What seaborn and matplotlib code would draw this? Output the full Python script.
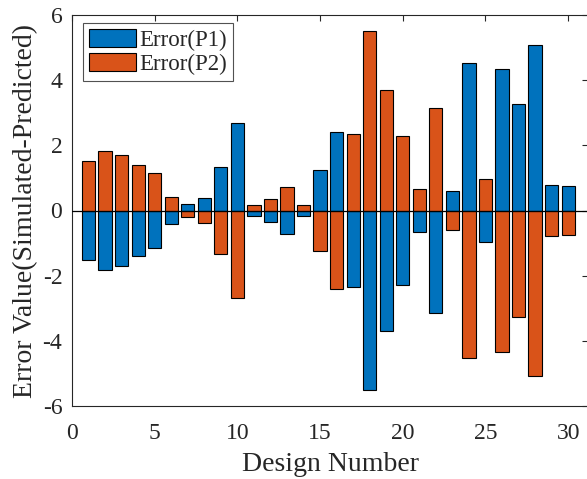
import numpy as np
import pandas as pd
import matplotlib
matplotlib.use('Agg')
import matplotlib.pyplot as plt
import seaborn as sns

# Datos
design = list(range(1, 31))
error_p1 = [-1.52, -1.84, -1.69, -1.40, -1.15, -0.41, 0.20, 0.39, 1.35, 2.70,
            -0.17, -0.34, -0.73, -0.17, 1.25, 2.40, -2.34, -5.51, -3.70, -2.28,
            -0.65, -3.14, 0.60, 4.54, -0.97, 4.35, 3.27, 5.07, 0.77, 0.76]
error_p2 = [-v for v in error_p1]

blue = '#0072BD'
orange = '#D95319'

sns.set_theme(style='white')
plt.rcParams['font.family'] = ['Liberation Serif', 'DejaVu Serif']
plt.rcParams['axes.unicode_minus'] = False

df = pd.DataFrame({'Design': design, 'P1': error_p1, 'P2': error_p2})

fig = plt.figure(figsize=(5.87, 4.79), dpi=100)
ax = fig.add_axes([72 / 587, 1 - 406 / 479, (588 - 72) / 587, (406 - 15) / 479])

sns.barplot(data=df, x='Design', y='P1', native_scale=True, width=0.8,
            color=blue, edgecolor='black', linewidth=0.8, saturation=1,
            label='Error(P1)', ax=ax)
sns.barplot(data=df, x='Design', y='P2', native_scale=True, width=0.8,
            color=orange, edgecolor='black', linewidth=0.8, saturation=1,
            label='Error(P2)', ax=ax)
ax.axhline(0, color='black', lw=0.9, zorder=5)

ax.set_xlim(0, 31.2)
ax.set_ylim(-6, 6)
ax.set_xticks([0, 5, 10, 15, 20, 25, 30])
ax.set_yticks([-6, -4, -2, 0, 2, 4, 6])
ax.tick_params(direction='in', length=4, width=0.8, labelsize=17,
               top=True, right=True, colors='#262626', labelcolor='#262626')
ax.tick_params(axis='x', pad=12)
ax.tick_params(axis='y', pad=7)
for s in ax.spines.values():
    s.set_color('#262626')
    s.set_linewidth(0.8)

ax.set_xlabel('Design Number', fontsize=20, color='#262626', labelpad=6)
ax.set_ylabel('Error Value(Simulated-Predicted)', fontsize=20, color='#262626', labelpad=3.5)

leg = ax.legend(loc='upper left', bbox_to_anchor=(0.0213, 0.9795), fontsize=16.5,
                frameon=True, fancybox=False,
                handlelength=2.05, handleheight=0.85, borderpad=0.25,
                labelspacing=0.1, handletextpad=0.15, borderaxespad=0)
leg.get_frame().set_edgecolor('#262626')
leg.get_frame().set_linewidth(0.8)

fig.savefig('out.png', dpi=100)
